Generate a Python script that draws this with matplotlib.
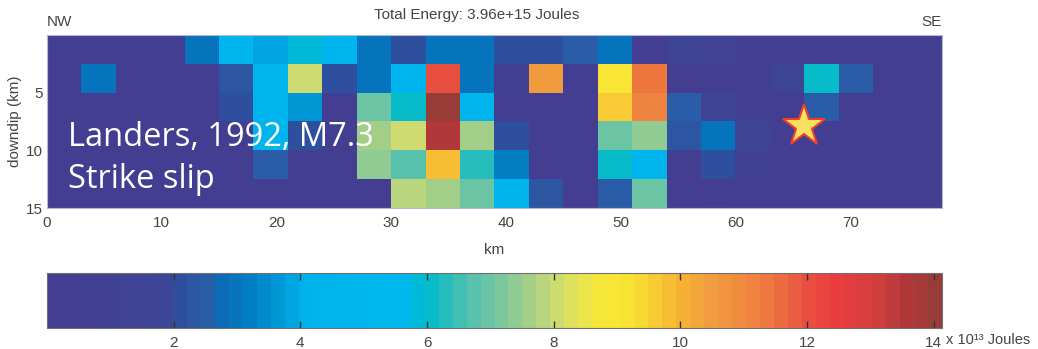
import matplotlib
matplotlib.use("Agg")
import matplotlib.pyplot as plt
import numpy as np
from matplotlib.colors import LinearSegmentedColormap, Normalize

# energy per patch, x 10^13 Joules (rows = downdip 0-15 km, cols = along strike 0-78 km)
row0 = [0.6, 0.6, 0.6, 0.6, 3.0, 4.6, 3.8, 5.9, 4.8, 2.9, 2.2, 2.9, 2.9, 2.2, 2.2, 2.5, 3.0, 0.6, 1.9, 1.4, 0.6, 0.6, 0.6, 0.6, 0.6, 0.6]
row1 = [0.6, 3.0, 0.6, 0.6, 0.6, 2.3, 4.3, 8.0, 2.2, 2.9, 4.5, 12.1, 3.0, 0.8, 10.4, 0.6, 9.0, 11.4, 0.6, 0.6, 0.6, 1.8, 6.1, 2.5, 0.6, 0.6]
row2 = [0.6, 0.6, 0.6, 0.6, 0.6, 2.2, 4.5, 3.6, 0.6, 7.0, 6.0, 14.0, 4.5, 0.6, 0.6, 0.6, 9.6, 11.2, 2.5, 1.9, 0.6, 0.6, 2.5, 0.6, 0.6, 0.6]
row3 = [0.6, 0.6, 0.6, 0.6, 0.6, 0.8, 4.5, 2.0, 0.6, 7.7, 8.0, 13.6, 7.6, 2.2, 0.6, 0.6, 7.0, 7.3, 2.3, 2.9, 1.8, 0.6, 0.6, 0.6, 0.6, 0.6]
row4 = [0.6, 0.6, 0.6, 0.6, 0.6, 0.6, 2.5, 0.6, 0.6, 7.3, 6.8, 9.8, 6.4, 3.2, 0.6, 0.6, 6.0, 4.5, 0.6, 2.2, 1.2, 0.6, 0.6, 0.6, 0.6, 0.6]
row5 = [0.6, 0.6, 0.6, 0.6, 0.6, 0.6, 0.6, 0.6, 0.6, 0.6, 7.9, 7.7, 7.0, 4.5, 2.3, 0.6, 2.5, 7.0, 0.6, 0.3, 0.6, 0.6, 0.6, 0.6, 0.6, 0.6]
energy = np.array([row0, row1, row2, row3, row4, row5])

fault_length = 78
fault_width = 15
vmax = 14.13
hypo_x = 66
hypo_y = 7.9
cbar_ticks = [2, 4, 6, 8, 10, 12, 14]

# colour anchors (value, colour)
anchors = [(0.0, "#453d91"), (1.9, "#3d4597"), (2.0, "#2f4e9e"), (2.5, "#2a5ea8"),
           (2.7, "#0a6cb8"), (3.2, "#0080c4"), (3.8, "#00a4e0"), (4.1, "#00b4ee"),
           (5.6, "#00b8ee"), (6.0, "#00bccc"), (6.4, "#38beb6"), (6.8, "#60c2aa"),
           (7.2, "#7ec89c"), (7.6, "#a0ce8a"), (8.0, "#c8da78"), (8.4, "#e4e454"),
           (8.8, "#f8e836"), (9.3, "#f8e034"), (9.7, "#f8c834"), (10.1, "#f6b034"),
           (10.6, "#f09a40"), (11.2, "#f08440"), (11.7, "#ec6a40"), (12.2, "#e84840"),
           (12.6, "#ea3c3e"), (13.2, "#d0403e"), (13.7, "#b0383a"), (vmax, "#983c38")]
cmap = LinearSegmentedColormap.from_list("energy", [(v / vmax, c) for v, c in anchors], N=64)
norm = Normalize(vmin=0, vmax=vmax)

plt.rcParams['font.family'] = ['Liberation Sans', 'DejaVu Sans']
grey = "#444444"
fs = 11

fig = plt.figure(figsize=(10.38, 3.49), dpi=100)
ax = fig.add_axes([47 / 1038, 1 - 208 / 349, 895 / 1038, 173 / 349])
ax.imshow(energy, cmap=cmap, norm=norm, extent=[0, fault_length, fault_width, 0],
          aspect='auto', interpolation='nearest')
ax.plot(hypo_x, hypo_y, marker='*', markersize=32, markerfacecolor="#f8e060",
        markeredgecolor="#e8402c", markeredgewidth=1.5)
ax.set_xlim(0, fault_length)
ax.set_ylim(fault_width, 0)
ax.set_xticks([0, 10, 20, 30, 40, 50, 60, 70])
ax.set_yticks([5, 10, 15])
ax.tick_params(length=0, labelsize=fs, labelcolor=grey)
ax.tick_params(axis='x', pad=6)
ax.tick_params(axis='y', pad=3)
for s in ax.spines.values():
    s.set_color("#b8b8d0")
    s.set_linewidth(0.8)
ax.set_xlabel("km", fontsize=fs, color=grey, labelpad=9)
ax.set_ylabel("downdip (km)", fontsize=fs, color=grey, labelpad=3)
ax.text(0.48, 1.075, "Total Energy: 3.96e+15 Joules", transform=ax.transAxes,
        ha='center', va='bottom', fontsize=fs, color=grey)
ax.text(0.0, 1.035, "NW", transform=ax.transAxes, ha='left', va='bottom', fontsize=fs, color=grey)
ax.text(1.0, 1.035, "SE", transform=ax.transAxes, ha='right', va='bottom', fontsize=fs, color=grey)
ax.text(1.8, 9.6, "Landers, 1992, M7.3", fontsize=23.5, color="white",
        family=['Open Sans', 'DejaVu Sans'], ha='left', va='baseline')
ax.text(1.8, 13.25, "Strike slip", fontsize=23.5, color="white",
        family=['Open Sans', 'DejaVu Sans'], ha='left', va='baseline')

cax = fig.add_axes([47 / 1038, 1 - 328 / 349, 895 / 1038, 55 / 349])
sm = plt.cm.ScalarMappable(norm=norm, cmap=cmap)
cb = fig.colorbar(sm, cax=cax, orientation='horizontal', ticks=cbar_ticks)
cb.outline.set_edgecolor("#707070")
cb.outline.set_linewidth(0.8)
cax.tick_params(direction='in', top=True, bottom=True, length=5, width=1,
                color="#333333", labelsize=fs, labelcolor=grey, pad=6)
cax.set_xticklabels([str(t) for t in cbar_ticks])
cax.text(1.004, -0.1, "x 10\u00b9\u00b3 Joules", transform=cax.transAxes, ha='left', va='top',
         fontsize=10.5, color=grey)

fig.savefig("out.png", dpi=100)
